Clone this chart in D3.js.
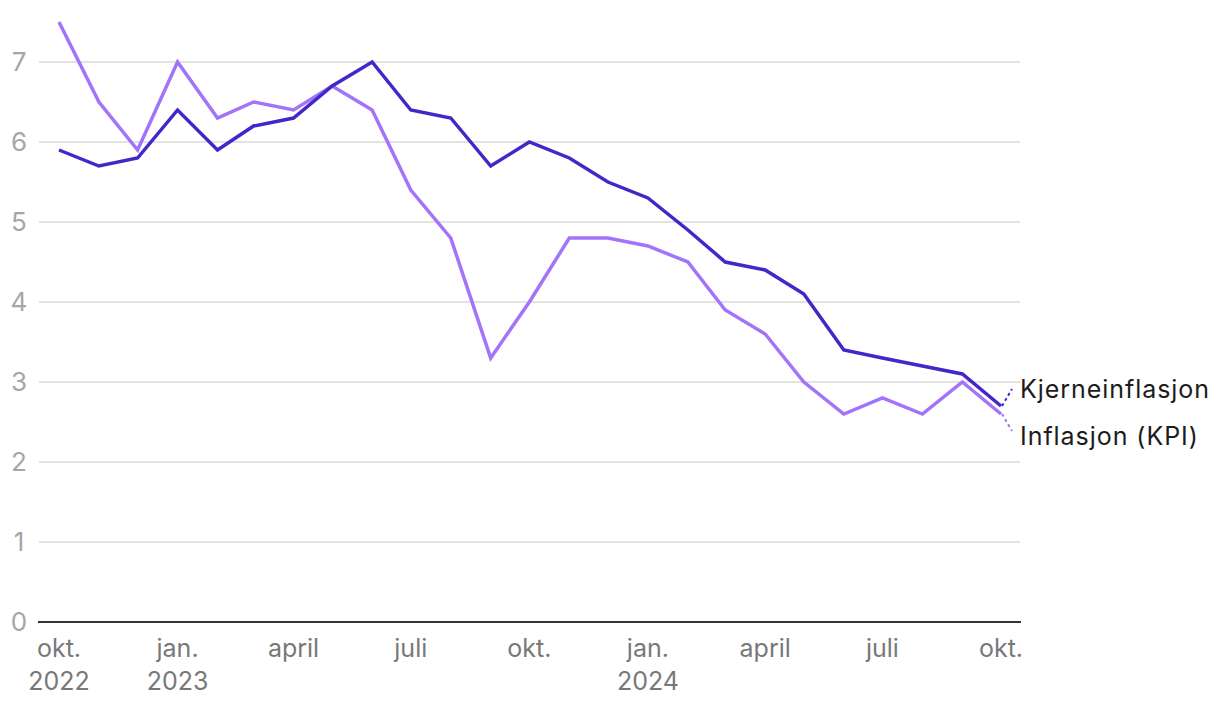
<!DOCTYPE html>
<html><head><meta charset="utf-8">
<script src="https://cdn.jsdelivr.net/npm/d3@7"></script>
<style>
html,body{margin:0;padding:0;background:#fff;}
svg{display:block;font-family:Inter,"Noto Sans",sans-serif;}
</style></head><body>
<svg id="c" width="1220" height="706"></svg>
<script>
const months = ["2022-10","2022-11","2022-12","2023-01","2023-02","2023-03","2023-04","2023-05","2023-06","2023-07","2023-08","2023-09","2023-10","2023-11","2023-12","2024-01","2024-02","2024-03","2024-04","2024-05","2024-06","2024-07","2024-08","2024-09","2024-10"];
const kpi = [7.5,6.5,5.9,7.0,6.3,6.5,6.4,6.7,6.4,5.4,4.8,3.3,4.0,4.8,4.8,4.7,4.5,3.9,3.6,3.0,2.6,2.8,2.6,3.0,2.6];
const core = [5.9,5.7,5.8,6.4,5.9,6.2,6.3,6.7,7.0,6.4,6.3,5.7,6.0,5.8,5.5,5.3,4.9,4.5,4.4,4.1,3.4,3.3,3.2,3.1,2.7];
const yTicks = [0,1,2,3,4,5,6,7];
const xTickMonths = ["2022-10","2023-01","2023-04","2023-07","2023-10","2024-01","2024-04","2024-07","2024-10"];
const xTickLabels = [["okt.","2022"],["jan.","2023"],["april"],["juli"],["okt."],["jan.","2024"],["april"],["juli"],["okt."]];
const seriesNames = ["Kjerneinflasjon","Inflasjon (KPI)"];

const parse = d3.timeParse("%Y-%m");
const dates = months.map(parse);
const svg = d3.select("#c");
const x = d3.scaleTime().domain([dates[0], dates[dates.length-1]]).range([59, 1001]);
const y = d3.scaleLinear().domain([0,7]).range([622,62]);

// grid
svg.append("g").selectAll("line").data(yTicks.filter(d=>d>0)).join("line")
  .attr("x1",39).attr("x2",1020).attr("y1",d=>y(d)).attr("y2",d=>y(d))
  .attr("stroke","#e3e3e3").attr("stroke-width",2);
svg.append("g").selectAll("text").data(yTicks).join("text")
  .attr("x",19).attr("y",d=>y(d)).attr("dy","0.36em").attr("text-anchor","middle")
  .attr("font-size",26).attr("fill","#a6a6a6").text(d=>d);
svg.append("line").attr("x1",38).attr("x2",1021).attr("y1",y(0)).attr("y2",y(0))
  .attr("stroke","#333").attr("stroke-width",2);

// x ticks
const xg = svg.append("g").selectAll("text").data(xTickMonths).join("text")
  .attr("x",(d)=>x(parse(d))).attr("y",657).attr("text-anchor","middle")
  .attr("font-size",25).attr("fill","#787878");
xg.each(function(d,i){
  const t=d3.select(this);
  xTickLabels[i].forEach((s,j)=>t.append("tspan").attr("x",x(parse(d))).attr("dy",j?33:0).text(s));
});

const line = d3.line().x((d,i)=>x(dates[i])).y(d=>y(d));
svg.append("path").datum(kpi).attr("d",line).attr("fill","none")
  .attr("stroke","#a274f9").attr("stroke-width",3.5).attr("stroke-linejoin","miter");
svg.append("path").datum(core).attr("d",line).attr("fill","none")
  .attr("stroke","#4427c8").attr("stroke-width",3.5).attr("stroke-linejoin","miter");

// labels
const last = dates.length-1;
const lx = x(dates[last]);
const labels = [
  {name:seriesNames[0], v:core[last], ly:389, ty:389, color:"#4427c8"},
  {name:seriesNames[1], v:kpi[last], ly:431, ty:436, color:"#a274f9"}
];
labels.forEach(l=>{
  svg.append("line").attr("x1",lx+1).attr("y1",y(l.v)).attr("x2",lx+11).attr("y2",l.ly)
    .attr("stroke",l.color).attr("stroke-width",2).attr("stroke-dasharray","3,3");
  svg.append("text").attr("x",1020).attr("y",l.ty).attr("dy","0.35em")
    .attr("font-size",25).attr("letter-spacing",0.95).attr("fill","#1c1c1c").text(l.name);
});
</script></body></html>
